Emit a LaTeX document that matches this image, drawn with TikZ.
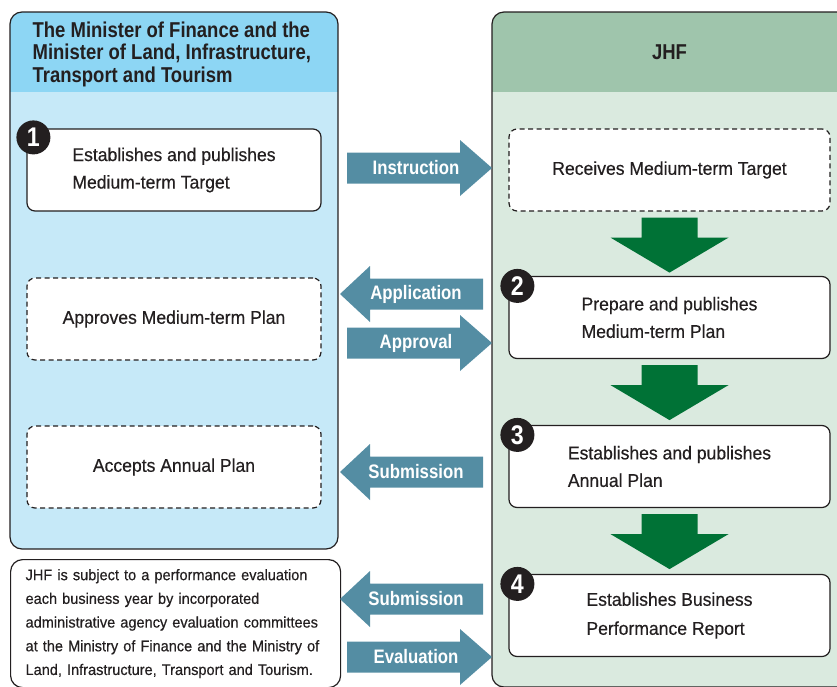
\documentclass[tikz,border=0pt]{standalone}
\usepackage{fontspec}
\setmainfont{Liberation Sans}[FakeStretch=0.95,UprightFeatures={FakeBold=0.4},
  BoldFeatures={FakeStretch=0.86}]
\usetikzlibrary{positioning}

\definecolor{ink}{HTML}{231F20}
\definecolor{headblue}{HTML}{8DD6F4}
\definecolor{bodyblue}{HTML}{C6E9F8}
\definecolor{headgreen}{HTML}{9FC5AC}
\definecolor{bodygreen}{HTML}{DAEADF}
\definecolor{flowblue}{HTML}{548DA3}
\definecolor{flowgreen}{HTML}{007236}

% block arrow between the panels, pointing right / left
\newcommand{\toright}[3]{%
  \fill[flowblue] (347,{#1-15.5}) -- (460,{#1-15.5}) -- (460,{#1-28}) -- (492,#1)
    -- (460,{#1+28}) -- (460,{#1+15.5}) -- (347,{#1+15.5}) -- cycle;
  \node[flowlabel] (#2) at (416,#1) {#3};}
\newcommand{\toleft}[3]{%
  \fill[flowblue] (483,{#1-15.5}) -- (370,{#1-15.5}) -- (370,{#1-28}) -- (340,#1)
    -- (370,{#1+28}) -- (370,{#1+15.5}) -- (483,{#1+15.5}) -- cycle;
  \node[flowlabel] (#2) at (416,#1) {#3};}
% green arrow under a step
\newcommand{\godown}[1]{%
  \fill[flowgreen] ([yshift=-6pt]#1.south) ++(-28,0) -- ++(56,0) -- ++(0,20)
    -- ++(31,0) -- ++(-59,35) -- ++(-59,-35) -- ++(31,0) -- cycle;}

\begin{document}
\begin{tikzpicture}[x=1pt,y=-1pt,line width=1.2pt,text=ink,
                    font=\fontsize{18.5}{27.5}\selectfont]
  \tikzstyle{stepbox}=[draw=ink,fill=white,rounded corners=8,align=left,
                       minimum width=294,minimum height=82]
  \tikzstyle{jhfbox}=[stepbox,minimum width=321]
  \tikzstyle{waitbox}=[dash pattern=on 5pt off 3.5pt,align=center]
  \tikzstyle{num}=[circle,fill=ink,text=white,inner sep=0,minimum size=34,
                   font=\bfseries\fontsize{27}{27}\selectfont]
  \tikzstyle{flowlabel}=[text=white,font=\bfseries\fontsize{19.5}{20}\selectfont]
  \tikzstyle{headtext}=[font=\bfseries\fontsize{21.5}{22.5}\selectfont]

  \useasboundingbox (0,0) rectangle (837,686);
  \clip (0,0) rectangle (837,686);

  % panels
  \begin{scope}
    \clip[rounded corners=12] (10,12) rectangle (338,549);
    \fill[bodyblue] (10,12) rectangle (338,549);
    \fill[headblue] (10,12) rectangle (338,92);
  \end{scope}
  \draw[ink,rounded corners=12] (10,12) rectangle (338,549);
  \begin{scope}
    \clip[rounded corners=12] (492,12) rectangle (860,687);
    \fill[bodygreen] (492,12) rectangle (860,687);
    \fill[headgreen] (492,12) rectangle (860,92);
  \end{scope}
  \draw[ink,rounded corners=12] (492,12) rectangle (860,687);

  \node[headtext,anchor=north west,inner sep=0,align=left] (minister) at (32,21)
    {The Minister of Finance and the\\Minister of Land, Infrastructure,\\Transport and Tourism};
  \node[headtext] (jhf) at (669.5,52) {JHF};

  % minister side
  \node[stepbox] (target) at (174,170) {Establishes and publishes\\Medium-term Target};
  \node[stepbox,waitbox] (approve) at (174,319) {Approves Medium-term Plan};
  \node[stepbox,waitbox] (accept) at (174,467) {Accepts Annual Plan};
  \node[draw=ink,fill=white,rounded corners=12,anchor=north west,align=left,
        text width=300,inner xsep=15,inner ysep=0,minimum height=128,
        font=\fontsize{15.3}{23.7}\selectfont] (note) at (10,559)
    {JHF is subject to a performance evaluation\\each business year by incorporated\\
     administrative agency evaluation committees\\at the Ministry of Finance and the Ministry of\\
     Land, Infrastructure, Transport and Tourism.};

  % JHF side
  \node[jhfbox,waitbox] (receive) at (669.5,170) {Receives Medium-term Target};
  \node[jhfbox] (plan) at (669.5,317.5) {Prepare and publishes\\Medium-term Plan};
  \node[jhfbox] (annual) at (669.5,466.5) {Establishes and publishes\\Annual Plan};
  \node[jhfbox,font=\fontsize{18.5}{29}\selectfont] (report) at (669.5,615.5)
    {Establishes Business\\Performance Report};

  \node[num] (n1) at ([shift={(7pt,-9pt)}]target.north west) {1};
  \node[num] (n2) at ([shift={(9pt,-10pt)}]plan.north west) {2};
  \node[num] (n3) at ([shift={(9pt,-10pt)}]annual.north west) {3};
  \node[num] (n4) at ([shift={(9pt,-10pt)}]report.north west) {4};

  \godown{receive}
  \godown{plan}
  \godown{annual}

  % flows between the two sides
  \toright{168}{instr}{Instruction}
  \toleft{294}{appl}{Application}
  \toright{343}{appr}{Approval}
  \toleft{472}{subm}{Submission}
  \toleft{599}{subm2}{Submission}
  \toright{657}{eval}{Evaluation}
\end{tikzpicture}
\end{document}
